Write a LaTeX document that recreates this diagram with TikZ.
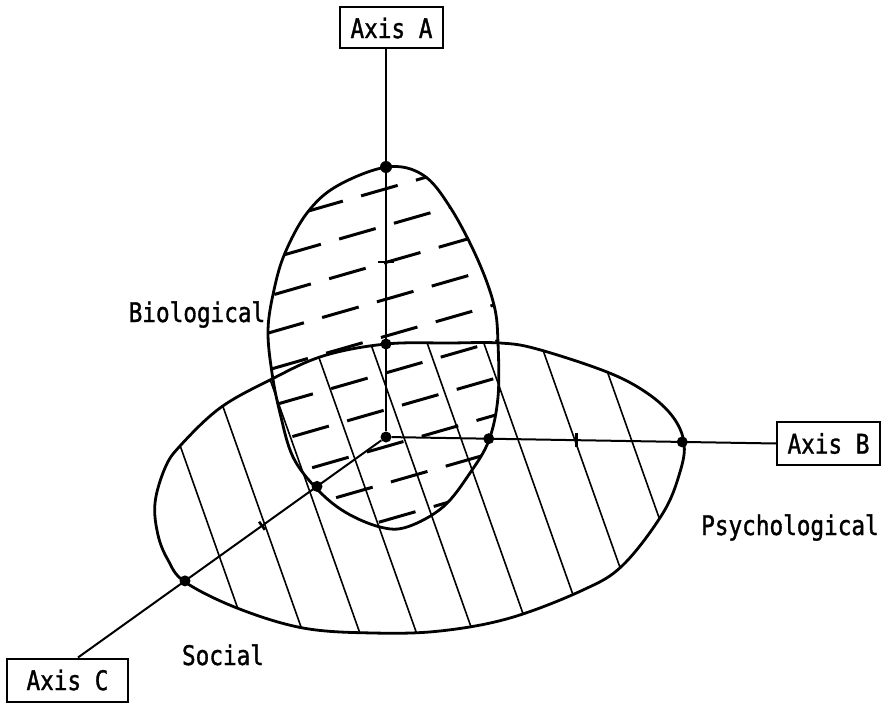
\documentclass[tikz,border=0pt]{standalone}
\usepackage{fontspec}
\newfontfamily\lblfont[FakeStretch=0.84,FakeBold=1.2]{DejaVu Sans Mono}
\usetikzlibrary{calc}
\begin{document}
\begin{tikzpicture}[x=1pt,y=-1pt,
  outline/.style={line width=2.8pt, line join=round},
  axisline/.style={line width=2pt},
  hatchline/.style={line width=1.6pt},
  dashline/.style={line width=3pt, dash pattern=on 38pt off 19pt},
  tickmark/.style={line width=2.6pt},
  dot/.style={circle, fill, inner sep=0pt, minimum size=11pt},
  axbox/.style={draw, line width=2pt, inner sep=0pt, minimum height=41pt,
    font=\lblfont\fontsize{27}{30}\selectfont},
  lbl/.style={font=\lblfont\fontsize{27}{30}\selectfont, inner sep=0pt, anchor=base}
]
\useasboundingbox (0,0) rectangle (889,706);

% ---- dashed hatching (Biological region)
\begin{scope}
  \clip plot[smooth cycle, tension=0.6] coordinates {(387,167) (423,175) (450,207) (477,258) (494,305) (498,343) (498,397) (489,440) (470,473) (443,507) (407,527) (380,527) (345,512) (317,489) (293,457) (280,413) (272,373) (268,330) (274,290) (285,253) (307,213) (337,186)};
  \foreach \k/\s in {0/32,1/10,2/0,3/-7,4/-3,5/2,6/18,7/-17,8/7,9/-5} {
    \pgfmathsetmacro\nn{288+35.4*\k}
    \pgfmathsetmacro\xs{110+\s}
    \pgfmathsetmacro\ts{(\xs-0.276*\nn)/0.961}
    \draw[dashline] ({0.276*\nn+0.961*\ts},{0.961*\nn-0.276*\ts}) -- ++(576.6,-165.6);
  }
\end{scope}

% ---- solid hatching (Psychological / Social region)
\begin{scope}
  \clip plot[smooth cycle, tension=0.6] coordinates {(386,344) (450,343) (500,343) (537,349) (607,372) (647,393) (673,417) (684,443) (680,472) (663,513) (623,565) (583,590) (510,618) (440,631) (373,633) (303,628) (237,608) (185,582) (168,560) (158,535) (155,503) (165,468) (180,446) (220,408) (270,380) (323,356)};
  \foreach \k in {0,...,8} {
    \pgfmathsetmacro\nn{21+53.4*\k}
    \draw[hatchline] ({0.943*\nn+83.5},{-0.334*\nn+235.75}) -- ++(233.8,660.1);
  }
\end{scope}

% ---- outlines
\draw[outline] plot[smooth cycle, tension=0.6] coordinates {(387,167) (423,175) (450,207) (477,258) (494,305) (498,343) (498,397) (489,440) (470,473) (443,507) (407,527) (380,527) (345,512) (317,489) (293,457) (280,413) (272,373) (268,330) (274,290) (285,253) (307,213) (337,186)};
\draw[outline] plot[smooth cycle, tension=0.6] coordinates {(386,344) (450,343) (500,343) (537,349) (607,372) (647,393) (673,417) (684,443) (680,472) (663,513) (623,565) (583,590) (510,618) (440,631) (373,633) (303,628) (237,608) (185,582) (168,560) (158,535) (155,503) (165,468) (180,446) (220,408) (270,380) (323,356)};

% ---- axis boxes
\node[axbox, minimum width=103pt] (axA) at (391.5,28) {Axis A};
\node[axbox, minimum width=103pt, minimum height=43pt] (axB) at (828.5,443.5) {Axis B};
\node[axbox, minimum width=121pt, minimum height=43pt] (axC) at (67.5,680) {Axis C};

% ---- axes
\node[dot] (O) at (386,437) {};
\coordinate (cEnd) at ([xshift=10.5pt]axC.north);
\draw[axisline] (O) -- (O |- axA.south);
\draw[axisline] (O) -- (axB.west);
\draw[axisline] (O) -- (cEnd);

% ---- points on the axes
\node[dot, minimum size=12pt] (dA1) at (386,167) {};
\node[dot] (dA2) at (386,344) {};
\node[dot] (dB1) at ($(O)!0.2634!(axB.west)$) {};
\node[dot] (dB2) at ($(O)!0.7596!(axB.west)$) {};
\node[dot] (dC1) at ($(O)!0.224!(cEnd)$) {};
\node[dot] (dC2) at ($(O)!0.6526!(cEnd)$) {};

% ---- tick marks
\coordinate (tA) at (386,262);
\coordinate (tB) at ($(O)!0.4885!(axB.west)$);
\coordinate (tC) at ($(O)!0.4026!(cEnd)$);
\draw[tickmark] ([xshift=-8pt]tA) -- ([xshift=8pt]tA);
\draw[tickmark] ([yshift=-7pt]tB) -- ([yshift=7pt]tB);
\draw[tickmark] ($(tC)!5pt!90:(O)$) -- ($(tC)!5pt!-90:(O)$);

% ---- labels
\node[lbl] (bio) at (197,322) {Biological};
\node[lbl] (psy) at (790,535) {Psychological};
\node[lbl] (soc) at (223,665) {Social};
\end{tikzpicture}
\end{document}
